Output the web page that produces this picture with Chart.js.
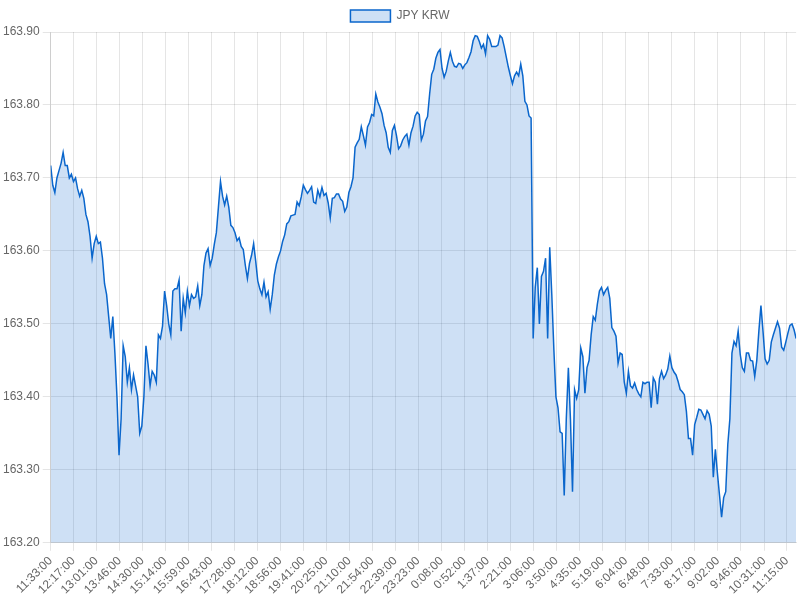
<!DOCTYPE html>
<html>
<head>
<meta charset="utf-8">
<title>JPY KRW</title>
<script src="https://cdn.jsdelivr.net/npm/chart.js@4"></script>
<style>
  body { margin: 0; background: #fff; }
  #wrap { width: 800px; height: 600px; }
</style>
</head>
<body>
<div id="wrap"><canvas id="rateChart"></canvas></div>
<script>
const seriesName = "JPY KRW";
const startTime = "11:33:00";
const stepMinutes = 4;

const tickLabels = [
  "11:33:00", "12:17:00", "13:01:00", "13:46:00", "14:30:00", "15:14:00",
  "15:59:00", "16:43:00", "17:28:00", "18:12:00", "18:56:00", "19:41:00",
  "20:25:00", "21:10:00", "21:54:00", "22:39:00", "23:23:00", "0:08:00",
  "0:52:00", "1:37:00", "2:21:00", "3:06:00", "3:50:00", "4:35:00",
  "5:19:00", "6:04:00", "6:48:00", "7:33:00", "8:17:00", "9:02:00",
  "9:46:00", "10:31:00", "11:15:00"
];

const yTicks = [163.2, 163.3, 163.4, 163.5, 163.6, 163.7, 163.8, 163.9];

// one reading every 4 minutes
const rates = [
  163.717, 163.69, 163.68, 163.70, 163.71, 163.72, 163.735, 163.717, 163.717, 163.70,
  163.705, 163.695, 163.70, 163.685, 163.675, 163.683, 163.672, 163.65, 163.64, 163.62,
  163.59, 163.61, 163.62, 163.61, 163.612, 163.59, 163.555, 163.54, 163.51, 163.48,
  163.51, 163.46, 163.40, 163.32, 163.37, 163.47, 163.455, 163.42, 163.44, 163.41,
  163.43, 163.415, 163.40, 163.35, 163.36, 163.40, 163.47, 163.445, 163.415, 163.435,
  163.43, 163.42, 163.485, 163.48, 163.497, 163.545, 163.525, 163.50, 163.485, 163.545,
  163.548, 163.548, 163.56, 163.49, 163.535, 163.515, 163.545, 163.525, 163.54, 163.535,
  163.537, 163.552, 163.525, 163.54, 163.58, 163.597, 163.603, 163.58, 163.59, 163.609,
  163.625, 163.66, 163.695, 163.675, 163.663, 163.675, 163.66, 163.635, 163.632, 163.625,
  163.614, 163.618, 163.606, 163.602, 163.58, 163.562, 163.583, 163.594, 163.61, 163.586,
  163.559, 163.548, 163.54, 163.557, 163.537, 163.544, 163.52, 163.54, 163.567, 163.582,
  163.592, 163.60, 163.613, 163.622, 163.637, 163.64, 163.648, 163.649, 163.65, 163.667,
  163.662, 163.674, 163.69, 163.684, 163.679, 163.683, 163.688, 163.667, 163.665, 163.683,
  163.674, 163.687, 163.676, 163.679, 163.666, 163.645, 163.672, 163.673, 163.678, 163.678,
  163.671, 163.668, 163.654, 163.66, 163.68, 163.688, 163.70, 163.742, 163.748, 163.753,
  163.77, 163.758, 163.745, 163.77, 163.776, 163.787, 163.785, 163.815, 163.804, 163.797,
  163.788, 163.772, 163.762, 163.742, 163.735, 163.765, 163.772, 163.758, 163.74, 163.744,
  163.752, 163.757, 163.76, 163.745, 163.762, 163.771, 163.785, 163.79, 163.787, 163.752,
  163.76, 163.778, 163.784, 163.815, 163.842, 163.849, 163.864, 163.872, 163.876, 163.85,
  163.838, 163.846, 163.86, 163.872, 163.86, 163.853, 163.852, 163.857, 163.856, 163.85,
  163.855, 163.858, 163.865, 163.873, 163.888, 163.895, 163.894, 163.887, 163.878, 163.883,
  163.87, 163.895, 163.89, 163.88, 163.88, 163.88, 163.882, 163.895, 163.892, 163.88,
  163.866, 163.852, 163.84, 163.829, 163.84, 163.845, 163.84, 163.856, 163.84, 163.805,
  163.80, 163.785, 163.782, 163.48, 163.55, 163.577, 163.50, 163.565, 163.572, 163.59,
  163.48, 163.605, 163.54, 163.465, 163.40, 163.385, 163.352, 163.35, 163.265, 163.37,
  163.44, 163.37, 163.27, 163.41, 163.398, 163.41, 163.467, 163.455, 163.405, 163.44,
  163.45, 163.485, 163.51, 163.505, 163.527, 163.545, 163.55, 163.54, 163.546, 163.55,
  163.535, 163.495, 163.49, 163.483, 163.446, 163.46, 163.458, 163.42, 163.405, 163.435,
  163.415, 163.412, 163.419, 163.41, 163.404, 163.40, 163.42, 163.418, 163.42, 163.42,
  163.385, 163.426, 163.42, 163.39, 163.425, 163.435, 163.425, 163.43, 163.438, 163.456,
  163.44, 163.434, 163.43, 163.421, 163.41, 163.407, 163.403, 163.38, 163.343, 163.343,
  163.32, 163.362, 163.372, 163.383, 163.382, 163.376, 163.37, 163.381, 163.376, 163.36,
  163.29, 163.328, 163.295, 163.265, 163.235, 163.262, 163.27, 163.335, 163.37, 163.46,
  163.476, 163.47, 163.49, 163.458, 163.44, 163.435, 163.46, 163.46, 163.45, 163.449,
  163.428, 163.45, 163.49, 163.525, 163.49, 163.452, 163.445, 163.45, 163.475, 163.485,
  163.494, 163.503, 163.494, 163.468, 163.464, 163.475, 163.487, 163.498, 163.50, 163.492,
  163.48
];

function toMinutes(label) {
  const parts = label.split(":").map(Number);
  return parts[0] * 60 + parts[1];
}

// minutes since the first reading, wrapping past midnight
const startMinutes = toMinutes(startTime);
function sinceStart(label) {
  let m = toMinutes(label) - startMinutes;
  if (m < 0) m += 24 * 60;
  return m;
}

const tickMinutes = tickLabels.map(sinceStart);
const points = rates.map((r, i) => ({ x: i * stepMinutes, y: r }));

const ctx = document.getElementById("rateChart").getContext("2d");
new Chart(ctx, {
  type: "line",
  data: {
    datasets: [
      {
        label: seriesName,
        data: points,
        borderColor: "rgb(10, 102, 204)",
        backgroundColor: "rgba(10, 102, 204, 0.2)",
        borderWidth: 1.5,
        pointRadius: 0,
        tension: 0,
        fill: "start",
      },
    ],
  },
  options: {
    responsive: true,
    maintainAspectRatio: false,
    animation: false,
    plugins: {
      legend: { position: "top" },
      tooltip: { enabled: false },
    },
    scales: {
      x: {
        type: "linear",
        min: 0,
        max: (rates.length - 1) * stepMinutes,
        afterBuildTicks: (scale) => {
          scale.ticks = tickMinutes.map((v) => ({ value: v }));
        },
        ticks: {
          autoSkip: false,
          minRotation: 45,
          maxRotation: 45,
          callback: (value) => tickLabels[tickMinutes.indexOf(value)],
        },
      },
      y: {
        min: yTicks[0],
        max: yTicks[yTicks.length - 1],
        afterBuildTicks: (scale) => {
          scale.ticks = yTicks.map((v) => ({ value: v }));
        },
        ticks: {
          callback: (value) => value.toFixed(2),
        },
      },
    },
  },
});
</script>
</body>
</html>
